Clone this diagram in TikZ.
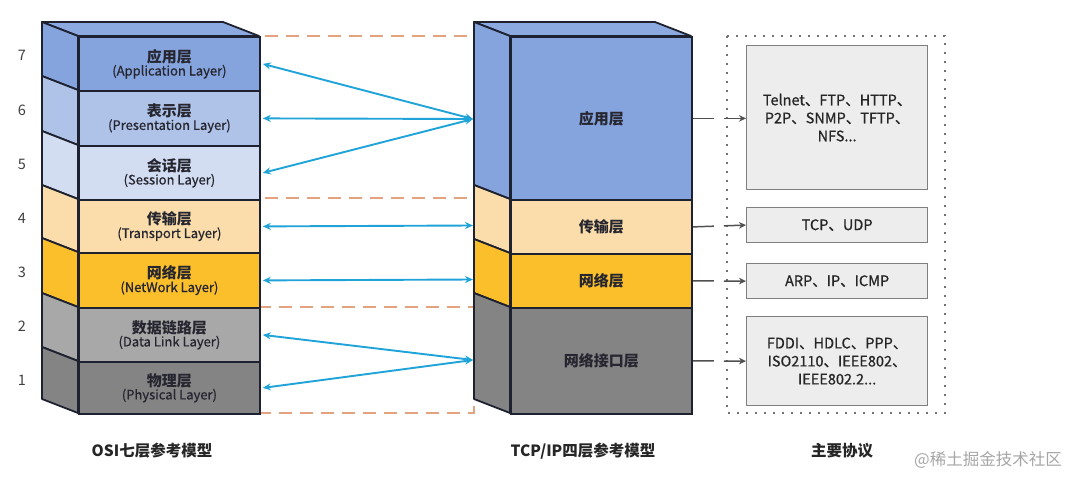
\documentclass[tikz,border=0pt]{standalone}
\usepackage{fontspec}
\setmainfont{Noto Sans CJK SC}
\newfontfamily\semibfont[FakeBold=0.7]{Noto Sans CJK SC}
\usetikzlibrary{arrows.meta,calc}
\definecolor{c7}{HTML}{85A3DC}
\definecolor{ctop}{HTML}{8DAAE0}
\definecolor{c6}{HTML}{AFC2E8}
\definecolor{c5}{HTML}{D3DDF2}
\definecolor{c4}{HTML}{FADDAA}
\definecolor{c3}{HTML}{FBBF2C}
\definecolor{c2}{HTML}{A8A8A8}
\definecolor{c1}{HTML}{848484}
\definecolor{edge}{HTML}{1E2230}
\definecolor{txt}{HTML}{262630}
\definecolor{arrowblue}{HTML}{1FA3D8}
\definecolor{dashorange}{HTML}{E2A37E}
\definecolor{protofill}{HTML}{EDEDED}
\definecolor{protoedge}{HTML}{7F7F7F}
\definecolor{arrowgrey}{HTML}{505050}
\newcommand\cnlab{\fontsize{15}{17}\selectfont\bfseries}
\newcommand\enlab{\semibfont\fontsize{13}{17}\selectfont}
\newcommand\prlab{\semibfont\fontsize{14.5}{18}\selectfont}
\begin{document}
\begin{tikzpicture}[x=1pt,y=-1pt,
  layerbox/.style={draw=edge, line width=1.8pt, minimum width=181pt, anchor=north west,
    inner sep=0pt, align=center, text=txt},
  face/.style={draw=edge, line width=1.8pt, line join=round},
  bluearrow/.style={draw=arrowblue, line width=1.9pt,
    {Stealth[length=8pt,width=7pt]}-{Stealth[length=8pt,width=7pt]}},
  greyarrow/.style={draw=arrowgrey, line width=1.5pt, dash pattern=on 21pt off 10pt,
    -{Stealth[length=7pt,width=6.5pt]}},
  protobox/.style={draw=protoedge, fill=protofill, line width=1.2pt, minimum width=181pt,
    anchor=north west, inner sep=0pt, align=center, text=black!85, font=\prlab},
  orangebox/.style={draw=dashorange, line width=1.6pt, dash pattern=on 13pt off 8pt},
  numlab/.style={text=black!75, font=\fontsize{14.5}{16}\selectfont},
  titlelab/.style={text=black!85, font=\fontsize{15.5}{17}\selectfont\bfseries}
]
\useasboundingbox (0,0) rectangle (1070,487);

% orange dashed groups
\draw[orangebox] (259,36) rectangle (474,198);
\draw[orangebox] (259,307) rectangle (474,413);

% ---------- OSI stack ----------
\filldraw[face, fill=ctop] (42,22) -- (223,22) -- (259,36) -- (78,36) -- cycle;
\foreach \t/\b/\c in {36/90/c7, 90/145/c6, 145/199/c5, 199/252/c4, 252/307/c3, 307/361/c2, 361/413/c1}{
  \filldraw[face, fill=\c] (42,\t-14) -- (78,\t) -- (78,\b) -- (42,\b-14) -- cycle;
}
\node[layerbox, fill=c7, minimum height=54pt] (osi7) at (78,36) {\cnlab 应用层\\\enlab (Application Layer)};
\node[layerbox, fill=c6, minimum height=55pt] (osi6) at (78,90) {\cnlab 表示层\\\enlab (Presentation Layer)};
\node[layerbox, fill=c5, minimum height=54pt] (osi5) at (78,145) {\cnlab 会话层\\\enlab (Session Layer)};
\node[layerbox, fill=c4, minimum height=53pt] (osi4) at (78,199) {\cnlab 传输层\\\enlab (Transport Layer)};
\node[layerbox, fill=c3, minimum height=55pt] (osi3) at (78,252) {\cnlab 网络层\\\enlab (NetWork Layer)};
\node[layerbox, fill=c2, minimum height=54pt] (osi2) at (78,307) {\cnlab 数据链路层\\\enlab (Data Link Layer)};
\node[layerbox, fill=c1, minimum height=52pt] (osi1) at (78,361) {\cnlab 物理层\\\enlab (Physical Layer)};

\node[numlab] (n7) at (22,55) {7};
\node[numlab] (n6) at (22,110) {6};
\node[numlab] (n5) at (22,164) {5};
\node[numlab] (n4) at (22,218) {4};
\node[numlab] (n3) at (22,272) {3};
\node[numlab] (n2) at (22,326) {2};
\node[numlab] (n1) at (22,380) {1};

% ---------- TCP/IP stack ----------
\filldraw[face, fill=ctop] (474,22) -- (655,22) -- (691,36) -- (510,36) -- cycle;
\foreach \t/\b/\c in {36/199/c7, 199/253/c4, 253/307/c3, 307/413/c1}{
  \filldraw[face, fill=\c] (474,\t-14) -- (510,\t) -- (510,\b) -- (474,\b-14) -- cycle;
}
\node[layerbox, fill=c7, minimum height=163pt] (tapp) at (510,36) {\cnlab 应用层};
\node[layerbox, fill=c4, minimum height=54pt] (ttr) at (510,199) {\cnlab 传输层};
\node[layerbox, fill=c3, minimum height=54pt] (tnet) at (510,253) {\cnlab 网络层};
\node[layerbox, fill=c1, minimum height=106pt] (tif) at (510,307) {\cnlab 网络接口层};

% arrow end points on the TCP/IP side face
\coordinate (pa) at (473,119);
\coordinate (pt) at (473,225.5);
\coordinate (pn) at (473,279.5);
\coordinate (pi) at (473,360);

\draw[bluearrow] ([xshift=2pt]osi7.east) -- (pa);
\draw[bluearrow] ([xshift=2pt]osi6.east) -- (pa);
\draw[bluearrow] ([xshift=2pt]osi5.east) -- (pa);
\draw[bluearrow] ([xshift=2pt]osi4.east) -- (pt);
\draw[bluearrow] ([xshift=2pt]osi3.east) -- (pn);
\draw[bluearrow] ([xshift=2pt]osi2.east) -- (pi);
\draw[bluearrow] ([xshift=2pt]osi1.east) -- (pi);

% ---------- protocols ----------
\draw[draw=black!55, line width=2pt, dash pattern=on 2pt off 7pt] (727,36) rectangle (945,413);
\node[protobox, minimum height=144pt] (p1) at (746,45) {Telnet、FTP、HTTP、\\P2P、SNMP、TFTP、\\NFS...};
\node[protobox, minimum height=35pt] (p2) at (746,207) {TCP、UDP};
\node[protobox, minimum height=35pt] (p3) at (746,263) {ARP、IP、ICMP};
\node[protobox, minimum height=89pt] (p4) at (746,316) {FDDI、HDLC、PPP、\\ISO2110、IEEE802、\\IEEE802.2...};

\draw[greyarrow] (tapp.east) -- (p1.west |- tapp.east);
\draw[greyarrow] (ttr.east) -- (p2.west);
\draw[greyarrow] (tnet.east) -- (p3.west);
\draw[greyarrow] (tif.east) -- (p4.west);

% ---------- titles ----------
\node[titlelab] (t1) at (152,451) {OSI七层参考模型};
\node[titlelab] (t2) at (583,451) {TCP/IP四层参考模型};
\node[titlelab] (t3) at (842,451) {主要协议};
\node[text=black!35, font=\fontsize{16.5}{18}\selectfont] (wm) at (988,460) {@稀土掘金技术社区};
\end{tikzpicture}
\end{document}
